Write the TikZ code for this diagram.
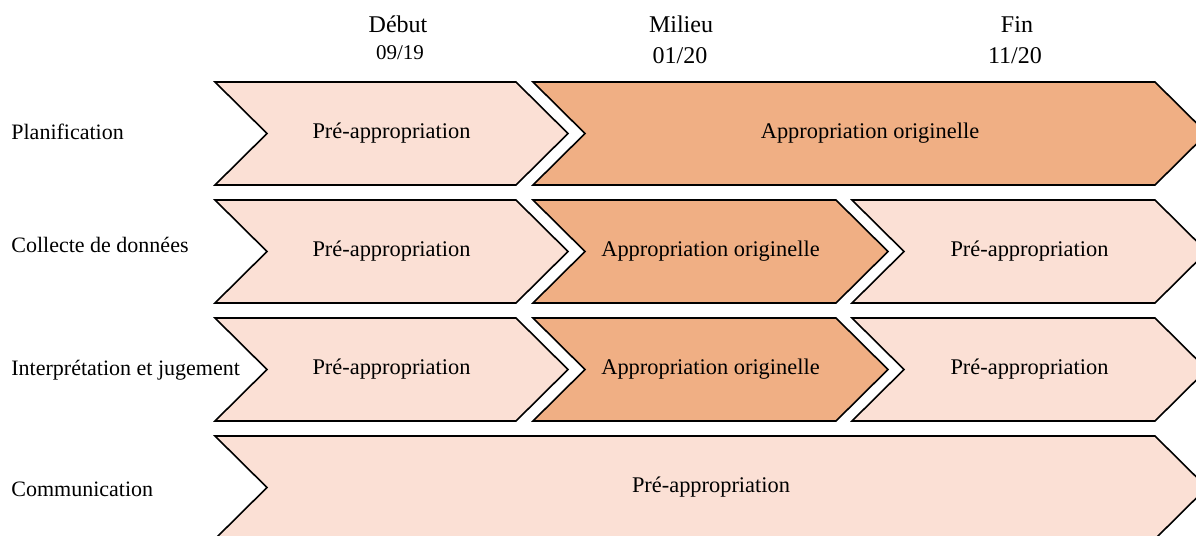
\documentclass[tikz,border=0pt]{standalone}
\usepackage{xcolor}
\usepackage{fontspec}
\setmainfont{Liberation Serif}
\usepackage{tikz}
\usetikzlibrary{positioning}

\definecolor{prelight}{RGB}{251,224,213}
\definecolor{origdark}{RGB}{240,175,132}

% chevron: name, style, left x, right x, top y, text
\newcommand{\chevron}[6]{%
  \draw[#2] (#3,#5) -- (#4,#5) -- ++(52,51.5) -- ++(-52,51.5) -- (#3,#5+103) -- ++(52,-51.5) -- cycle;
  \node[chevtext] (#1) at ({(#3+#4+52)/2},#5+51.5) {#6};}

\begin{document}
\begin{tikzpicture}[
    x=0.5pt, y=-0.5pt,
    pre/.style={draw=black, line width=0.8pt, fill=prelight},
    orig/.style={draw=black, line width=0.8pt, fill=origdark},
    chevtext/.style={font=\fontsize{11.2}{13}\selectfont, inner sep=0pt},
    rowlabel/.style={anchor=base west, font=\fontsize{11}{13}\selectfont, inner sep=0pt},
    phase/.style={anchor=base, font=\fontsize{12}{14}\selectfont, inner sep=0pt}
]
    \useasboundingbox (0,0) rectangle (1196,536);

    % Phases
    \node[phase] (debut) at (398,32) {Début};
    \node[phase, font=\fontsize{10.5}{12}\selectfont] (debutdate) at (400,59) {09/19};
    \node[phase] (milieu) at (681,32) {Milieu};
    \node[phase] (milieudate) at (680,63) {01/20};
    \node[phase] (fin) at (1017,32) {Fin};
    \node[phase] (findate) at (1015,63) {11/20};

    % Row labels
    \node[rowlabel] (planif) at (11,139) {Planification};
    \node[rowlabel] (collecte) at (11,252) {Collecte de données};
    \node[rowlabel] (interp) at (11,375) {Interprétation et jugement};
    \node[rowlabel] (comm) at (11,496) {Communication};

    % Planification
    \chevron{planA}{pre}{215}{516}{82}{Pré-appropriation}
    \chevron{planB}{orig}{533}{1155}{82}{Appropriation originelle}

    % Collecte de donnees
    \chevron{collA}{pre}{215}{516}{200}{Pré-appropriation}
    \chevron{collB}{orig}{533}{836}{200}{Appropriation originelle}
    \chevron{collC}{pre}{852}{1155}{200}{Pré-appropriation}

    % Interpretation et jugement
    \chevron{intA}{pre}{215}{516}{318}{Pré-appropriation}
    \chevron{intB}{orig}{533}{836}{318}{Appropriation originelle}
    \chevron{intC}{pre}{852}{1155}{318}{Pré-appropriation}

    % Communication
    \chevron{commA}{pre}{215}{1155}{436}{Pré-appropriation}
\end{tikzpicture}
\end{document}
